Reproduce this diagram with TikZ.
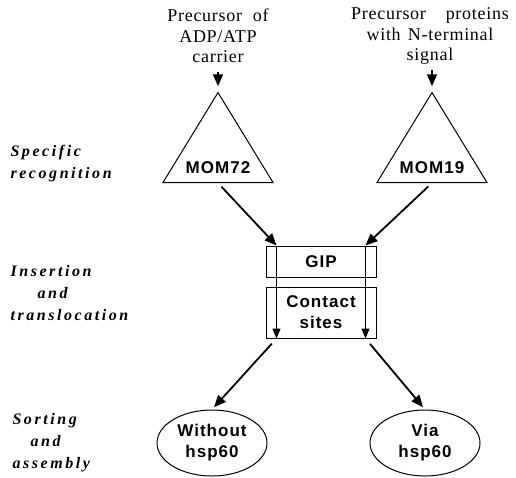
\documentclass[tikz,border=0pt]{standalone}
\usepackage{fontspec}
\setmainfont{Liberation Serif}
\newfontfamily\headfont{Liberation Serif}[LetterSpace=4]
\newfontfamily\stagefont{Liberation Serif}[LetterSpace=16]
\newfontfamily\boxfont{Liberation Sans}[LetterSpace=6]
\usetikzlibrary{arrows.meta,shapes.geometric}
\begin{document}
\begin{tikzpicture}[x=1pt,y=-1pt,
    head/.style={align=center,font=\headfont\fontsize{18}{20.5}\selectfont},
    stage/.style={anchor=west,align=left,font=\stagefont\bfseries\itshape\fontsize{16}{22}\selectfont},
    recept/.style={draw,line width=1pt,isosceles triangle,isosceles triangle stretches,shape border rotate=90,minimum width=110pt,minimum height=68pt,inner sep=0pt,font=\boxfont\bfseries\fontsize{17}{20}\selectfont},
    membrane/.style={draw,line width=1pt,minimum width=110pt,inner sep=0pt,align=center,font=\boxfont\bfseries\fontsize{17}{21}\selectfont},
    product/.style={draw,line width=1pt,ellipse,minimum width=110pt,minimum height=66pt,inner sep=0pt,align=center,font=\boxfont\bfseries\fontsize{17}{21}\selectfont},
    bigarrow/.style={line width=1.8pt,-{Triangle[length=12pt,width=10pt]}},
    smallarrow/.style={line width=1pt,-{Triangle[length=10pt,width=8pt]}}]
  \useasboundingbox (0,0) rectangle (516,477);
  % precursors
  \node[head] (precA) at (218,36) {Precursor\hspace{0.6em}of\\ADP/ATP\\carrier};
  \node[head] (precB) at (430,36) {Precursor\hspace{1.1em}proteins\\with\hspace{0.4em}N-terminal\\signal};
  % receptors
  \node[recept,anchor=lower side] (mom72) at (218,183) {MOM72};
  \node[recept,anchor=lower side] (mom19) at (432,183) {MOM19};
  % outer membrane and contact sites
  \node[membrane,minimum height=31pt] (gip) at (321,261.5) {GIP};
  \node[membrane,minimum height=51pt] (contact) at (321,312.5) {Contact\\sites};
  \coordinate (inA) at ([xshift=11pt]gip.north west);
  \coordinate (inB) at ([xshift=-11pt]gip.north east);
  \coordinate (outA) at ([xshift=11pt]contact.south west);
  \coordinate (outB) at ([xshift=-11pt]contact.south east);
  % sorting
  \node[product] (without) at (212,443) {Without\\hsp60};
  \node[product] (via) at (425,443) {Via\\hsp60};
  % stages
  \node[stage] (spec) at (7,164) {Specific\\recognition};
  \node[stage] (ins) at (7,293) {Insertion\\\hspace*{27pt}and\\translocation};
  \node[stage] (sort) at (9,443) {Sorting\\\hspace*{18pt}and\\assembly};
  % arrows
  \draw[bigarrow,shorten <=6pt,shorten >=5pt] (precA.south) -- (mom72.apex);
  \draw[bigarrow,shorten <=2pt,shorten >=5pt] (precB.south -| mom19.apex) -- (mom19.apex);
  \draw[bigarrow,shorten <=5pt] (mom72.lower side) -- (inA);
  \draw[bigarrow,shorten <=5pt] (mom19.lower side) -- (inB);
  \draw[smallarrow] (inA) -- (outA);
  \draw[smallarrow] (inB) -- (outB);
  \draw[bigarrow,shorten <=7pt,shorten >=3pt] (outA) -- (without.north);
  \draw[bigarrow,shorten <=7pt,shorten >=3pt] (outB) -- (via.north);
\end{tikzpicture}
\end{document}
